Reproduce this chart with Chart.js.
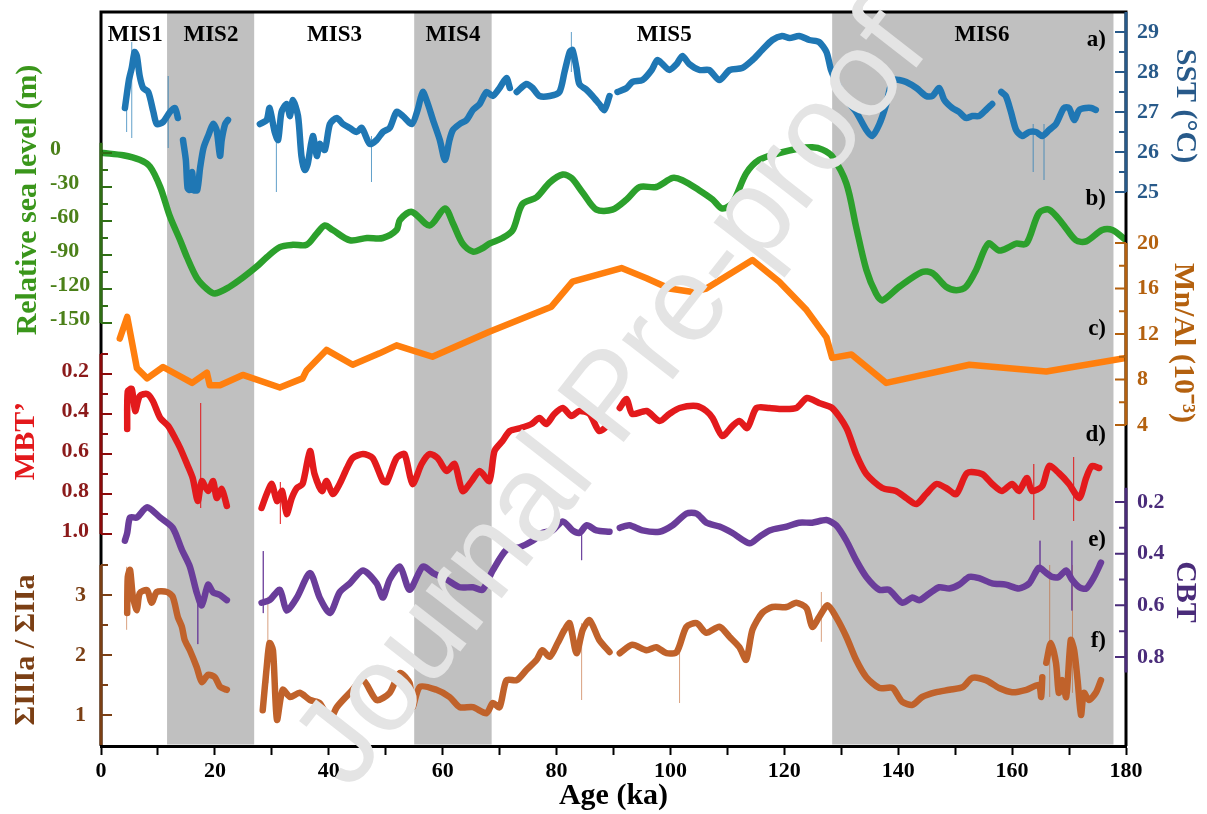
<!DOCTYPE html>
<html>
<head>
<meta charset="utf-8">
<script src="https://cdn.jsdelivr.net/npm/chart.js@4.4.1/dist/chart.umd.min.js"></script>
<style>
  html, body { margin: 0; padding: 0; background: #fff; }
  #wrap { width: 1207px; height: 814px; position: relative; }
</style>
</head>
<body>
<div id="wrap"><canvas id="chart"></canvas></div>
<script>
// ---- data (age in ka) ----
// null value = gap in the record

// a) SST (°C)
const sstAge = [4.2,4.9,5.4,5.9,6.3,6.8,7.4,8.3,9.2,9.8,10.9,12.1,13.0,13.5,14.0,
  14.4,14.9,15.2,15.6,16.0,16.3,16.9,17.4,18.0,18.8,19.7,20.3,20.9,21.2,21.8,22.3,25.0,
  27.9,29.1,29.6,30.5,31.1,31.7,32.6,33.2,33.7,34.6,35.2,35.8,36.3,37.2,37.9,38.4,39.3,40.2,
  41.4,42.5,43.7,44.9,45.8,47.2,48.4,49.5,50.7,51.9,53.0,54.6,55.6,56.5,57.4,58.3,59.5,60.4,
  61.2,61.8,63.0,64.2,65.3,66.5,67.7,68.8,70.0,71.2,71.8,72.4,
  73.0,74.7,75.8,77.0,78.8,80.5,81.4,82.3,82.8,83.5,84.0,85.3,86.3,87.5,88.4,89.3,90.0,
  90.7,92.3,93.3,95.1,96.7,97.7,98.6,99.8,101.1,102.1,103.3,105.1,106.8,108.6,110.4,112.6,
  114.4,116.1,117.9,119.6,120.9,122.6,124.4,126.1,127.4,128.2,129.3,130.9,132.6,134.4,135.4,
  136.7,137.9,139.0,140.2,141.4,143.2,144.9,146.0,147.2,148.1,149.5,150.7,151.9,153.0,154.2,
  155.4,156.5,157.3,
  158.1,158.9,159.8,160.7,161.8,163.0,164.2,165.3,166.5,167.7,169.1,170.0,170.9,171.8,173.0,
  173.9,174.7];
const sstVal = [27.1,27.8,28.1,28.5,28.4,27.9,27.6,27.5,27.0,26.7,26.75,27.0,27.1,26.85,null,
  26.3,25.8,25.1,25.05,25.5,25.05,25.05,25.6,26.1,26.4,26.7,26.55,25.9,26.3,26.7,26.8,null,
  26.7,26.8,27.1,26.5,26.3,27.0,27.2,26.9,27.3,26.9,25.9,25.55,25.7,26.4,25.9,26.2,26.05,26.7,
  26.85,26.7,26.6,26.5,26.6,26.2,26.3,26.5,26.6,27.0,26.9,26.7,27.05,27.5,27.2,26.8,26.3,25.8,
  26.3,26.55,26.7,26.8,27.05,27.2,27.5,27.4,27.6,27.85,27.6,null,
  27.5,27.7,27.6,27.4,27.4,27.5,28.0,28.5,28.55,28.1,27.7,27.55,27.4,27.2,27.05,27.4,null,
  27.5,27.6,27.75,27.8,28.05,28.3,28.2,28.05,28.2,28.4,28.2,28.05,28.05,27.8,28.05,28.1,
  28.3,28.55,28.8,28.9,28.85,28.9,28.8,28.75,28.5,28.05,27.7,27.3,27.0,26.55,26.4,
  26.7,27.2,27.8,27.8,27.75,27.6,27.4,27.4,27.6,27.3,27.1,27.0,26.85,26.9,26.9,
  27.05,27.2,null,
  27.5,27.4,27.0,26.55,26.4,26.5,26.5,26.4,26.55,26.7,27.1,27.1,26.8,27.05,27.1,
  27.1,27.05];
const sstSpikeAge = [4.5,5.4,11.8,30.8,47.5,82.6,163.7,165.6];
const sstSpikeLo  = [26.5,26.35,26.1,25.0,25.25,28.0,25.5,25.3];
const sstSpikeHi  = [27.5,28.75,27.9,26.6,26.4,29.0,26.7,26.7];

// b) relative sea level (m)
const seaAge = [0.4,3.9,6.8,8.6,10.4,12.1,13.9,15.1,16.8,18.6,20.0,22.6,24.9,27.4,29.1,31.4,
  33.7,36.1,37.9,39.3,40.7,43.7,46.7,49.5,51.9,52.5,54.6,57.7,60.4,61.8,63.5,65.3,67.0,68.2,
  70.5,72.3,74.0,76.5,78.8,81.1,82.6,84.6,87.0,89.8,92.3,94.6,97.5,100.4,102.1,105.1,107.4,
  109.1,110.9,113.3,115.6,119.1,122.6,124.9,126.7,128.4,130.9,132.6,134.4,136.1,137.2,140.2,
  144.2,146.0,148.4,150.2,151.9,153.7,155.8,157.7,159.5,160.7,162.5,164.7,166.5,168.8,171.2,
  173.0,175.8,177.6,180];
const seaVal = [0,-2,-6,-12,-30,-56,-77,-92,-110,-120,-124,-118,-110,-100,-92,-83,
  -81,-81,-71,-64,-68,-77,-75,-75,-68,-59,-52,-64,-49,-62,-80,-87,-84,-80,
  -75,-68,-45,-39,-26,-19,-22,-35,-50,-50,-41,-30,-30,-22,-24,-33,-41,
  -49,-44,-18,-6,0,4,5,3,-3,-27,-65,-103,-124,-130,-118,
  -105,-106,-118,-121,-118,-103,-80,-86,-83,-80,-80,-53,-50,-62,-77,
  -78,-68,-68,-77];

// c) Mn/Al (10^-3)
const mnAge = [3.3,4.6,6.3,8.1,10.9,16.0,18.6,19.1,20.9,24.9,31.4,35.4,36.1,39.6,44.2,48.9,51.9,
  58.2,68.2,79.1,82.8,91.4,95.8,99.8,103.9,106.3,114.4,119.1,123.9,127.4,128.4,131.8,137.9,
  152.5,166.0,180];
const mnVal = [11.6,13.5,9.0,8.1,9.1,7.7,8.6,7.5,7.5,8.4,7.3,8.1,8.8,10.6,9.3,10.3,11.0,
  10.0,12.2,14.4,16.6,17.8,16.9,16.0,15.7,16.0,18.5,16.6,14.1,11.7,9.9,10.2,7.7,
  9.3,8.7,9.9];

// d) MBT'
const mbtAge = [4.6,4.7,5.4,6.0,6.8,8.1,9.1,10.4,11.8,13.0,13.9,15.1,16.1,17.0,17.7,18.8,19.7,
  20.3,21.2,22.1,25.0,
  28.2,29.1,30.0,30.9,31.8,32.6,33.5,34.4,35.4,36.7,37.5,38.8,39.6,40.7,41.9,43.2,44.2,46.0,
  47.7,49.5,50.2,51.9,53.3,54.7,56.3,57.7,59.1,60.7,62.1,63.5,65.1,66.5,68.2,69.1,70.5,71.8,
  73.7,75.6,77.0,78.2,79.6,81.1,82.6,84.0,85.8,87.5,89.3,90.2,
  91.1,92.3,93.3,95.8,98.1,99.8,101.6,104.6,106.3,107.4,109.1,110.9,112.1,113.5,115.1,117.4,
  119.6,122.1,124.0,126.1,128.4,130.9,132.6,134.4,137.2,139.6,141.4,143.2,144.9,146.7,148.4,
  150.2,152.1,154.7,156.5,158.2,160.0,161.2,162.6,163.5,165.3,166.5,168.2,170.0,171.8,173.0,
  174.0,175.3];
const mbtVal = [0.475,0.285,0.275,0.385,0.31,0.30,0.335,0.42,0.46,0.52,0.57,0.65,0.72,0.835,0.735,0.785,0.735,
  0.82,0.775,0.86,null,
  0.87,0.80,0.75,0.835,0.785,0.90,0.82,0.77,0.75,0.585,0.70,0.785,0.735,0.80,0.75,0.67,0.62,0.60,
  0.62,0.735,0.74,0.62,0.60,0.75,0.65,0.60,0.62,0.685,0.65,0.785,0.735,0.685,0.735,0.585,0.535,0.485,
  0.47,0.45,0.42,0.45,0.40,0.37,0.41,0.385,0.40,0.485,0.45,null,
  0.37,0.325,0.40,0.385,0.435,0.40,0.37,0.36,0.385,0.42,0.51,0.46,0.435,0.47,0.37,0.37,
  0.375,0.37,0.32,0.345,0.37,0.47,0.60,0.70,0.77,0.785,0.82,0.85,0.80,0.75,0.77,
  0.80,0.695,0.70,0.75,0.785,0.75,0.785,0.72,0.785,0.76,0.66,0.695,0.75,0.82,0.72,
  0.66,0.67];
const mbtSpikeAge = [17.5,31.5,163.8,170.8];
const mbtSpikeLo  = [0.345,0.74,0.65,0.615];
const mbtSpikeHi  = [0.87,0.95,0.93,0.935];

// e) CBT
const cbtAge = [4.2,4.6,5.1,6.3,8.1,10.4,12.6,14.2,15.6,16.8,17.7,18.8,19.7,20.9,22.1,25.0,
  28.2,29.6,31.4,32.6,34.4,36.7,38.4,40.2,41.9,43.7,46.0,48.4,49.5,50.7,52.5,54.2,56.5,58.3,
  60.7,63.0,65.3,67.0,68.8,71.2,73.5,75.8,77.5,79.3,81.1,82.8,84.0,85.3,87.0,89.3,90.2,
  91.1,92.8,95.1,98.1,100.4,102.8,104.6,106.3,108.6,110.9,113.9,115.6,117.4,120.4,122.6,
  124.9,127.4,129.1,130.9,132.6,134.4,136.7,138.4,140.7,142.5,143.7,145.4,147.2,149.0,150.7,
  152.5,154.2,156.5,158.9,161.2,163.0,164.7,166.0,167.0,168.2,169.5,170.5,171.8,173.0,174.4,
  175.6];
const cbtVal = [0.35,0.32,0.26,0.26,0.22,0.26,0.30,0.385,0.45,0.55,0.60,0.52,0.55,0.56,0.58,null,
  0.59,0.58,0.54,0.62,0.57,0.475,0.57,0.63,0.55,0.515,0.465,0.515,0.57,0.50,0.45,0.54,0.45,0.475,
  0.50,0.53,0.53,0.54,0.465,0.385,0.375,0.35,0.32,0.31,0.275,0.31,0.32,0.29,0.31,0.315,null,
  0.30,0.29,0.31,0.315,0.29,0.245,0.245,0.28,0.295,0.32,0.36,0.335,0.31,0.295,0.28,
  0.28,0.27,0.29,0.35,0.425,0.49,0.54,0.54,0.59,0.57,0.58,0.555,0.53,0.535,0.52,
  0.49,0.495,0.515,0.52,0.535,0.515,0.455,0.475,0.49,0.49,0.465,0.50,0.53,0.535,0.49,
  0.435];
const cbtSpikeAge = [17.0,28.5,84.4,164.9,170.5];
const cbtSpikeLo  = [0.57,0.39,0.32,0.35,0.35];
const cbtSpikeHi  = [0.75,0.63,0.425,0.47,0.62];

// f) ΣIIIa / ΣIIa
const sigAge = [4.6,4.7,5.1,5.6,6.3,6.8,8.1,8.9,9.8,11.6,12.6,13.5,14.2,14.7,15.6,16.8,17.7,
  18.8,20.0,20.9,22.1,25.0,
  28.4,29.1,29.6,30.2,30.9,31.9,33.2,34.9,36.7,38.4,40.2,41.4,43.7,46.0,48.4,50.7,52.5,54.2,
  54.7,56.0,58.9,61.2,63.0,65.3,67.7,68.8,70.0,71.2,73.0,74.7,76.5,77.5,78.8,80.2,81.4,82.3,
  83.5,84.6,85.8,87.5,89.3,90.2,
  91.1,93.3,95.8,97.5,99.3,101.1,102.8,104.6,106.3,108.6,110.4,112.1,113.3,114.4,116.1,117.9,
  120.4,122.1,123.9,124.9,126.1,127.6,129.1,130.9,132.6,134.4,136.7,139.0,140.7,142.5,144.2,
  146.7,149.0,151.4,153.0,155.4,157.7,160.0,162.5,164.7,165.1,165.3,165.6,
  166.0,166.8,167.7,168.2,168.8,169.5,170.3,170.9,171.5,172.1,172.6,173.5,174.7,175.6];
const sigVal = [2.7,3.3,3.42,2.97,2.75,3.03,3.08,2.87,3.05,3.05,2.97,2.63,2.47,2.25,2.08,1.80,1.55,
  1.67,1.63,1.47,1.42,null,
  1.08,1.80,2.2,2.08,0.92,1.42,1.30,1.37,1.25,1.20,0.92,1.13,1.37,1.58,1.25,1.37,1.70,1.53,
  1.13,1.47,1.42,1.30,1.13,1.13,1.03,1.20,1.13,1.58,1.58,1.75,1.92,2.08,1.97,2.20,2.42,2.53,
  2.03,2.42,2.58,2.25,2.05,null,
  2.03,2.17,2.08,2.13,2.03,2.05,2.47,2.53,2.37,2.47,2.30,2.13,1.92,2.42,2.70,2.80,
  2.80,2.87,2.78,2.47,2.63,2.83,2.63,2.30,1.92,1.63,1.45,1.45,1.22,1.17,1.30,
  1.38,1.42,1.47,1.62,1.58,1.45,1.38,1.42,1.50,1.30,1.63,null,
  1.87,2.20,1.87,1.37,1.58,1.30,2.25,2.08,1.58,1.00,1.37,1.25,1.37,1.58];
const sigSpikeAge = [4.5,29.3,84.4,101.6,126.5,166.6,170.6];
const sigSpikeLo  = [2.42,1.53,1.25,1.2,2.22,1.3,1.37];
const sigSpikeHi  = [3.47,2.97,2.53,2.2,3.05,3.5,3.5];

// marine isotope stages
const misBandStart = [11.6, 55.0, 128.4];
const misBandEnd   = [26.9, 68.6, 177.8];
const misNames  = ['MIS1','MIS2','MIS3','MIS4','MIS5','MIS6'];
const misCentre = [6.0, 19.3, 41.0, 61.8, 98.9, 154.7];

// axis ticks
const sstTicks = [29,28,27,26,25],        sstMinor = [28.5,27.5,26.5,25.5];
const seaTicks = [0,-30,-60,-90,-120,-150], seaMinor = [-15,-45,-75,-105,-135];
const mnTicks  = [20,16,12,8,4],          mnMinor  = [18,14,10,6];
const mbtTicks = [0.2,0.4,0.6,0.8,1.0],   mbtMinor = [0.1,0.3,0.5,0.7,0.9];
const cbtTicks = [0.2,0.4,0.6,0.8],       cbtMinor = [0.3,0.5,0.7];
const sigTicks = [3,2,1],                 sigMinor = [3.5,2.5,1.5];

// ---- helpers ----
const AREA_TOP = 12, AREA_BOTTOM = 746;
const SERIF = '"Liberation Serif", "Times New Roman", serif';

// linear y scale whose value v1 sits at pixel p1 and v2 at p2
function fitScale(v1, p1, v2, p2) {
  const k = (p2 - p1) / (v2 - v1);
  const a = v1 + (AREA_TOP - p1) / k;
  const b = v1 + (AREA_BOTTOM - p1) / k;
  return { type: 'linear', display: false, bounds: 'data',
           min: Math.min(a, b), max: Math.max(a, b), reverse: k > 0 };
}

function pts(ages, vals) {
  return ages.map((a, i) => ({ x: a, y: vals[i] }));
}
function spikes(ages, lo, hi) {
  const out = [];
  ages.forEach((a, i) => {
    out.push({ x: a, y: lo[i] }, { x: a, y: hi[i] }, { x: a + 0.01, y: null });
  });
  return out;
}
function thick(data, color, axis, tension) {
  return { data, yAxisID: axis, borderColor: color, borderWidth: 6.5, pointRadius: 0,
           tension, spanGaps: false, borderCapStyle: 'round', borderJoinStyle: 'round', fill: false };
}
function thin(data, color, axis) {
  return { data, yAxisID: axis, borderColor: color, borderWidth: 1, pointRadius: 0,
           tension: 0, spanGaps: false, fill: false };
}

// ---- axes drawn on the left / right spine ----
const axisDefs = [
  { id: 'ySea', side: 'left', from: 9, to: -150, major: seaTicks, minor: seaMinor, fmt: v => String(v),
    line: '#2f6e14', text: '#4b8019', labelX: 50, align: 'left', dy: -4,
    title: 'Relative sea level (m)', titleColor: '#3a961b', titleX: 28, titleY: 200 },
  { id: 'yMbt', side: 'left', from: 0.1, to: 1.0, major: mbtTicks, minor: mbtMinor, fmt: v => v.toFixed(1),
    line: '#8b0a0a', text: '#8b1a1a', labelX: 89, align: 'right', dy: -3,
    title: 'MBT\u2019', titleColor: '#e3191c', titleX: 26, titleY: 441 },
  { id: 'ySig', side: 'left', from: 3.5, to: 0.5, major: sigTicks, minor: sigMinor, fmt: v => String(v),
    line: '#7b3f14', text: '#7b3f14', labelX: 86, align: 'right', dy: 0,
    title: '\u03A3IIIa / \u03A3IIa', titleColor: '#7b3f14', titleX: 26, titleY: 650 },
  { id: 'ySst', side: 'right', from: 29.5, to: 25, major: sstTicks, minor: sstMinor, fmt: v => String(v),
    line: '#285a8a', text: '#285a8a', labelX: 1137, align: 'left', dy: 0,
    title: 'SST (\u00B0C)', titleColor: '#285a8a', titleX: 1185, titleY: 106 },
  { id: 'yMn', side: 'right', from: 20, to: 4, major: mnTicks, minor: mnMinor, fmt: v => String(v),
    line: '#b4610f', text: '#b4610f', labelX: 1137, align: 'left', dy: 0,
    title: 'Mn/Al (10\u207B\u00B3)', titleColor: '#b4610f', titleX: 1183, titleY: 343 },
  { id: 'yCbt', side: 'right', from: 0.145, to: 0.86, major: cbtTicks, minor: cbtMinor, fmt: v => v.toFixed(1),
    line: '#4a2c7a', text: '#4a2c7a', labelX: 1137, align: 'left', dy: 0,
    title: 'CBT', titleColor: '#4a2c7a', titleX: 1185, titleY: 592 }
];

const panelLetters = ['a)','b)','c)','d)','e)','f)'];
const panelY = [40, 199, 329, 435, 540, 641];

const decor = {
  id: 'decor',
  beforeDatasetsDraw(chart) {
    const { ctx, chartArea: a, scales: { x } } = chart;
    ctx.save();
    ctx.fillStyle = '#c0c0c0';
    misBandStart.forEach((s, i) => {
      const x0 = x.getPixelForValue(s), x1 = x.getPixelForValue(misBandEnd[i]);
      ctx.fillRect(x0, a.top + 1, x1 - x0, a.bottom - a.top - 2.5);
    });
    ctx.restore();
  },
  afterDraw(chart) {
    const { ctx, chartArea: a, scales } = chart;
    const x = scales.x;
    ctx.save();
    // frame
    ctx.strokeStyle = '#000';
    ctx.lineWidth = 3;
    ctx.beginPath();
    ctx.moveTo(a.left - 1.5, a.top); ctx.lineTo(a.right + 1.5, a.top);
    ctx.moveTo(a.left, a.top); ctx.lineTo(a.left, a.bottom);
    ctx.moveTo(a.right, a.top); ctx.lineTo(a.right, a.bottom);
    ctx.stroke();

    // coloured axes
    axisDefs.forEach(d => {
      const s = scales[d.id];
      const xs = d.side === 'left' ? a.left : a.right;
      const dir = d.side === 'left' ? 1 : -1;
      ctx.strokeStyle = d.line;
      ctx.lineWidth = 3;
      ctx.beginPath();
      ctx.moveTo(xs, s.getPixelForValue(d.from));
      ctx.lineTo(xs, s.getPixelForValue(d.to));
      ctx.stroke();
      ctx.lineWidth = 2;
      ctx.beginPath();
      d.major.forEach(v => { const y = s.getPixelForValue(v); ctx.moveTo(xs, y); ctx.lineTo(xs + dir * 11, y); });
      d.minor.forEach(v => { const y = s.getPixelForValue(v); ctx.moveTo(xs, y); ctx.lineTo(xs + dir * 7, y); });
      ctx.stroke();
      ctx.fillStyle = d.text;
      ctx.font = 'bold 22px ' + SERIF;
      ctx.textAlign = d.align;
      ctx.textBaseline = 'middle';
      d.major.forEach(v => ctx.fillText(d.fmt(v), d.labelX, s.getPixelForValue(v) + d.dy));
      // title
      ctx.save();
      ctx.translate(d.titleX, d.titleY);
      ctx.rotate(d.side === 'left' ? -Math.PI / 2 : Math.PI / 2);
      ctx.fillStyle = d.titleColor;
      ctx.font = 'bold 30px ' + SERIF;
      ctx.textAlign = 'center';
      ctx.textBaseline = 'middle';
      ctx.fillText(d.title, 0, 0);
      ctx.restore();
    });

    // stage names and panel letters
    ctx.fillStyle = '#000';
    ctx.font = 'bold 23px ' + SERIF;
    ctx.textAlign = 'center';
    ctx.textBaseline = 'middle';
    misNames.forEach((n, i) => ctx.fillText(n, x.getPixelForValue(misCentre[i]), 35));
    ctx.textAlign = 'right';
    panelLetters.forEach((p, i) => ctx.fillText(p, a.right - 20, panelY[i]));

    // watermark
    ctx.translate(614, 400);
    ctx.rotate(-52 * Math.PI / 180);
    ctx.fillStyle = '#e4e4e4';
    ctx.font = '122px "Liberation Sans", Arial, sans-serif';
    ctx.textAlign = 'center';
    ctx.textBaseline = 'middle';
    ctx.fillText('Journal Pre-proof', 0, 0);
    ctx.restore();
  }
};

new Chart(document.getElementById('chart'), {
  type: 'line',
  data: {
    datasets: [
      thick(pts(sstAge, sstVal), '#1f77b4', 'ySst', 0.25),
      thick(pts(seaAge, seaVal), '#2ca02c', 'ySea', 0.3),
      thick(pts(mnAge, mnVal), '#ff7f0e', 'yMn', 0),
      thick(pts(mbtAge, mbtVal), '#e31a1c', 'yMbt', 0.25),
      thick(pts(cbtAge, cbtVal), '#6a3d9a', 'yCbt', 0.25),
      thick(pts(sigAge, sigVal), '#c0622b', 'ySig', 0.25),
      thin(spikes(sstSpikeAge, sstSpikeLo, sstSpikeHi), 'rgba(31,119,180,0.7)', 'ySst'),
      thin(spikes(mbtSpikeAge, mbtSpikeLo, mbtSpikeHi), 'rgba(227,26,28,0.5)', 'yMbt'),
      thin(spikes(cbtSpikeAge, cbtSpikeLo, cbtSpikeHi), 'rgba(106,61,154,0.7)', 'yCbt'),
      thin(spikes(sigSpikeAge, sigSpikeLo, sigSpikeHi), 'rgba(192,98,43,0.6)', 'ySig')
    ]
  },
  options: {
    responsive: true,
    maintainAspectRatio: false,
    animation: false,
    layout: { padding: { left: 101, right: 81, top: AREA_TOP, bottom: 0 } },
    plugins: { legend: { display: false }, tooltip: { enabled: false } },
    scales: {
      x: {
        type: 'linear', min: 0, max: 180, bounds: 'data',
        afterFit: s => { s.height = 814 - AREA_BOTTOM; },
        ticks: {
          stepSize: 10, maxRotation: 0, autoSkip: false, padding: 3, color: '#000',
          font: { family: SERIF, size: 22, weight: 'bold' },
          callback: v => (v % 20 === 0 ? String(v) : '')
        },
        grid: { drawOnChartArea: false, drawTicks: true, tickLength: 9, tickWidth: 2, tickColor: '#000' },
        border: { display: true, color: '#000', width: 3 },
        title: { display: true, text: 'Age (ka)', color: '#000', padding: { top: 0, bottom: 0 },
                 font: { family: SERIF, size: 30, weight: 'bold' } }
      },
      ySst: fitScale(29, 32, 25, 192),
      ySea: fitScale(0, 153, -150, 323),
      yMn:  fitScale(20, 243, 4, 425),
      yMbt: fitScale(0.2, 374, 1.0, 534),
      yCbt: fitScale(0.2, 502, 0.8, 657),
      ySig: fitScale(3, 595, 1, 715)
    }
  },
  plugins: [decor]
});
</script>
</body>
</html>
